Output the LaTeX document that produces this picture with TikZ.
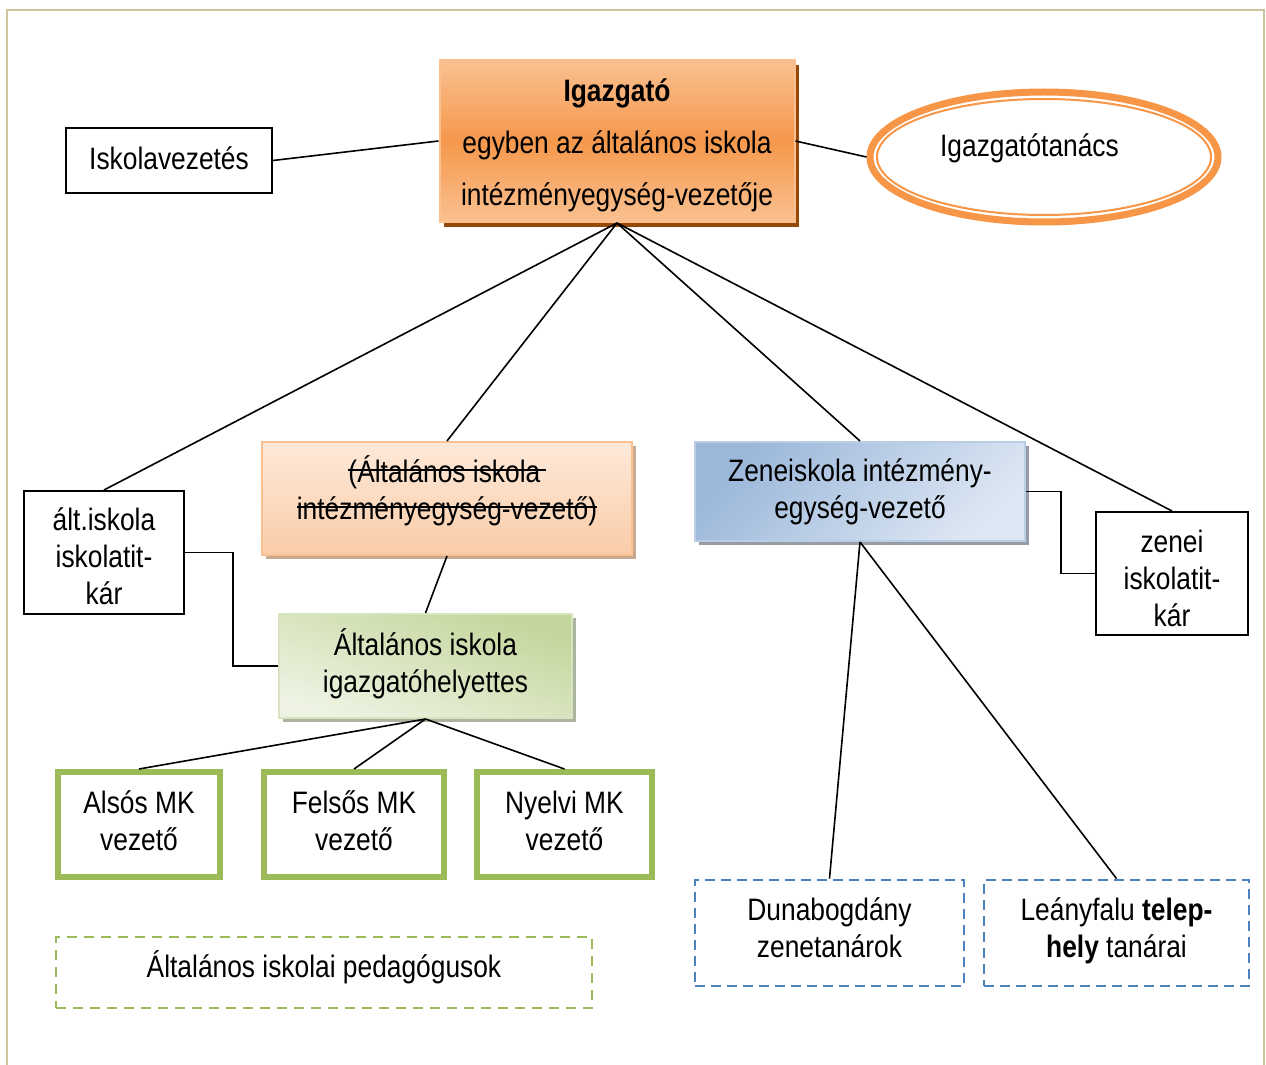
\documentclass[tikz,border=0pt]{standalone}
\usepackage{fontspec}
\setmainfont[FakeStretch=0.85]{Liberation Sans}
\usetikzlibrary{shapes.geometric,shadows}
\newcommand{\strikethru}[1]{\setbox0=\hbox{#1}\rlap{\rule[0.36em]{\wd0}{0.8pt}}\box0}
\newcommand{\topgap}[1]{\rule{0pt}{#1}}
\newcommand{\botgap}[1]{\rule[-#1]{0pt}{0pt}}
\definecolor{frametan}{RGB}{206,196,156}
\definecolor{orangeline}{RGB}{247,150,70}
\definecolor{orangelight}{RGB}{250,192,144}
\definecolor{orangemid}{RGB}{245,152,76}
\definecolor{orangeshadow}{RGB}{152,72,6}
\definecolor{peachtop}{RGB}{253,233,217}
\definecolor{peachbottom}{RGB}{250,204,168}
\definecolor{peachshadow}{RGB}{200,170,145}
\definecolor{greenfill}{RGB}{195,214,155}
\definecolor{greenlight}{RGB}{238,243,227}
\definecolor{greenedge}{RGB}{215,228,189}
\definecolor{greenline}{RGB}{155,187,89}
\definecolor{greenshadow}{RGB}{170,180,160}
\definecolor{bluefill}{RGB}{155,183,218}
\definecolor{bluelight}{RGB}{221,231,243}
\definecolor{blueedge}{RGB}{185,205,229}
\definecolor{blueline}{RGB}{79,129,189}
\definecolor{blueshadow}{RGB}{150,155,165}
\tikzset{
  every node/.style={font=\fontsize{15.5}{18.5}\selectfont, align=center, inner sep=0pt},
  blackbox/.style={rectangle, draw, line width=1pt},
  headbox/.style={rectangle, draw=orangelight, line width=1pt, top color=orangelight, bottom color=orangelight, middle color=orangemid, drop shadow={shadow xshift=2pt, shadow yshift=-2.5pt, fill=orangeshadow, opacity=1}},
  peachbox/.style={rectangle, draw=orangelight, line width=1pt, top color=peachtop, bottom color=peachbottom, drop shadow={shadow xshift=2pt, shadow yshift=-2pt, fill=peachshadow, opacity=1}},
  deputybox/.style={rectangle, draw=greenedge, line width=1pt, top color=greenfill, bottom color=greenlight, shading angle=-20, drop shadow={shadow xshift=2pt, shadow yshift=-2pt, fill=greenshadow, opacity=1}},
  musicbox/.style={rectangle, draw=blueedge, line width=1pt, top color=bluefill, bottom color=bluelight, shading angle=45, drop shadow={shadow xshift=2pt, shadow yshift=-2pt, fill=blueshadow, opacity=1}},
  mkbox/.style={rectangle, draw=greenline, line width=3pt},
  greendash/.style={rectangle, draw=greenline, line width=1.4pt, dash pattern=on 5pt off 3.5pt},
  bluedash/.style={rectangle, draw=blueline, line width=1.4pt, dash pattern=on 5pt off 3pt},
  council/.style={ellipse, draw=orangeline, line width=3.5pt},
  link/.style={line width=0.8pt}
}
\begin{document}
\begin{tikzpicture}[x=0.5pt, y=-0.5pt]
\useasboundingbox (0,0) rectangle (1266,1065);
\draw[frametan, line width=1pt] (7,1065) -- (7,10) -- (1264,10) -- (1264,1065);
\node[headbox, minimum width=177.5pt, minimum height=81pt, font=\fontsize{15.5}{26}\selectfont] (igazgato) at (617,141) {\topgap{16pt}\textbf{Igazgató}\\egyben az általános iskola\\intézményegység-vezetője};
\node[blackbox, minimum width=103pt, minimum height=32.5pt] (iskvez) at (169,160.5) {Iskolavezetés\botgap{2pt}};
\node[council, minimum width=174pt, minimum height=65pt, label={[xshift=-7.25pt, yshift=4.25pt]center:Igazgatótanács}] (tanacs) at (1044,157) {};
\draw[orangeline, line width=1pt] (tanacs.center) ellipse [x radius=83.5pt, y radius=29pt];
\node[blackbox, minimum width=80pt, minimum height=61.5pt] (altitk) at (104,552.5) {\topgap{15.5pt}ált.iskola\\iskolatit-\\kár};
\node[peachbox, minimum width=185pt, minimum height=56.5pt] (regivez) at (447,498.5) {\strikethru{(Általános iskola\,}\\\strikethru{intézményegység-vezető)}\botgap{11.3pt}};
\node[deputybox, minimum width=146.5pt, minimum height=52pt] (helyettes) at (425.5,666) {Általános iskola\\igazgatóhelyettes\botgap{5.8pt}};
\node[mkbox, minimum width=81pt, minimum height=52.5pt] (also) at (139,824.5) {Alsós MK\\vezető\botgap{4pt}};
\node[mkbox, minimum width=90pt, minimum height=52.5pt] (felso) at (354,824.5) {Felsős MK\\vezető\botgap{4pt}};
\node[mkbox, minimum width=87.5pt, minimum height=52.5pt] (nyelvi) at (564.5,824.5) {Nyelvi MK\\vezető\botgap{4pt}};
\node[greendash, minimum width=268pt, minimum height=35.5pt] (pedag) at (324,972.5) {Általános iskolai pedagógusok\botgap{8.3pt}};
\node[musicbox, minimum width=165pt, minimum height=49.5pt] (zene) at (860,491.5) {Zeneiskola intézmény-\\egység-vezető};
\node[blackbox, minimum width=76pt, minimum height=61.5pt] (zenitk) at (1172,573.5) {\topgap{16pt}zenei\\iskolatit-\\kár};
\node[bluedash, minimum width=134.5pt, minimum height=53pt] (duna) at (829.5,933) {Dunabogdány\\zenetanárok\botgap{5pt}};
\node[bluedash, minimum width=132.5pt, minimum height=53pt] (leany) at (1116.5,933) {Leányfalu \textbf{telep-}\\\textbf{hely} tanárai\botgap{5.3pt}};
\draw[link] (iskvez.east) -- (igazgato.west);
\draw[link] (igazgato.east) -- (tanacs.west);
\draw[link] (igazgato.south) -- (altitk.north);
\draw[link] (igazgato.south) -- (regivez.north);
\draw[link] (igazgato.south) -- (zene.north);
\draw[link] (igazgato.south) -- (zenitk.north);
\draw[link] (regivez.south) -- (helyettes.north);
\draw[link] (altitk.east) -- ++(48,0) |- (helyettes.west);
\draw[link] (helyettes.south) -- (also.north);
\draw[link] (helyettes.south) -- (felso.north);
\draw[link] (helyettes.south) -- (nyelvi.north);
\draw[link] (zene.east) -- ++(35,0) |- (zenitk.west);
\draw[link] (zene.south) -- (duna.north);
\draw[link] (zene.south) -- (leany.north);
\end{tikzpicture}
\end{document}
